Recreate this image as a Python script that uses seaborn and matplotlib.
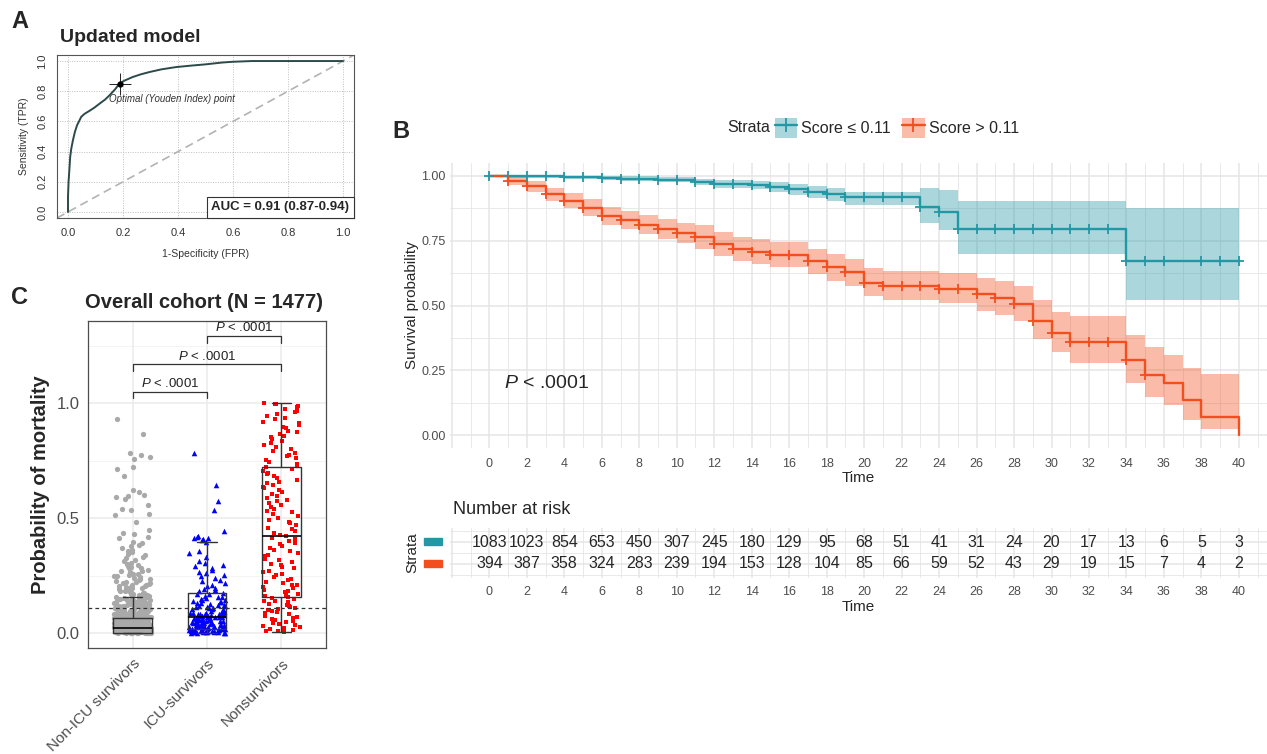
import numpy as np
import pandas as pd
import matplotlib.pyplot as plt
import seaborn as sns
from matplotlib.lines import Line2D
from matplotlib.patches import Patch, Rectangle
from matplotlib.offsetbox import AnchoredText

# ---------------- panel A : ROC of the updated model ----------------
roc_fpr = [0.0, 0.0, 0.002, 0.005, 0.008, 0.012, 0.018, 0.025, 0.033, 0.040, 0.048,
           0.060, 0.078, 0.095, 0.115, 0.135, 0.151, 0.170, 0.187, 0.205, 0.235,
           0.265, 0.296, 0.340, 0.393, 0.450, 0.500, 0.560, 0.598, 0.640, 0.670,
           0.750, 0.850, 1.0]
roc_tpr = [0.0, 0.10, 0.20, 0.28, 0.366, 0.42, 0.476, 0.53, 0.575, 0.60, 0.63,
           0.65, 0.67, 0.69, 0.718, 0.745, 0.773, 0.81, 0.85, 0.87, 0.894,
           0.912, 0.927, 0.945, 0.96, 0.97, 0.978, 0.99, 0.995, 0.998, 1.0,
           1.0, 1.0, 1.0]
youden_fpr = 0.19
youden_tpr = 0.85
auc_label = "AUC = 0.91 (0.87-0.94)"

# ---------------- panel B : Kaplan-Meier by score ----------------
low_time = [0, 1, 4, 6, 7, 9, 11, 12, 14, 15, 16, 17, 18, 19, 23, 24, 25, 34, 40]
low_surv = [1.0, 0.998, 0.995, 0.993, 0.99, 0.985, 0.978, 0.97, 0.965, 0.957,
            0.95, 0.94, 0.93, 0.92, 0.88, 0.86, 0.795, 0.67, 0.67]
low_upper = [1.0, 1.0, 1.0, 0.999, 0.998, 0.995, 0.99, 0.985, 0.982, 0.975,
             0.97, 0.963, 0.955, 0.937, 0.953, 0.944, 0.905, 0.876, 0.876]
low_lower = [1.0, 0.994, 0.99, 0.986, 0.982, 0.975, 0.965, 0.955, 0.948, 0.937,
             0.927, 0.915, 0.902, 0.886, 0.82, 0.79, 0.70, 0.52, 0.52]
low_censor = list(range(0, 37)) + [38, 39, 40]

high_time = [0, 1, 2, 3, 4, 5, 6, 7, 8, 9, 10, 11, 12, 13, 14, 15, 17, 18, 19, 20,
             21, 24, 26, 27, 28, 29, 30, 31, 34, 35, 36, 37, 38, 40]
high_surv = [1.0, 0.98, 0.96, 0.93, 0.905, 0.875, 0.845, 0.83, 0.81, 0.795, 0.78,
             0.765, 0.737, 0.718, 0.707, 0.696, 0.672, 0.649, 0.628, 0.588,
             0.576, 0.565, 0.543, 0.53, 0.506, 0.44, 0.394, 0.361, 0.289, 0.232,
             0.202, 0.135, 0.068, 0.0]
high_upper = [1.0, 1.0, 0.98, 0.955, 0.935, 0.91, 0.88, 0.865, 0.85, 0.835, 0.82,
              0.81, 0.785, 0.765, 0.755, 0.745, 0.72, 0.70, 0.68, 0.645,
              0.635, 0.625, 0.605, 0.595, 0.575, 0.52, 0.475, 0.46, 0.385, 0.34,
              0.31, 0.26, 0.235, 0.235]
high_lower = [1.0, 0.965, 0.94, 0.905, 0.875, 0.845, 0.81, 0.795, 0.775, 0.755, 0.74,
              0.72, 0.69, 0.67, 0.66, 0.65, 0.62, 0.595, 0.575, 0.535,
              0.52, 0.51, 0.48, 0.465, 0.44, 0.37, 0.32, 0.28, 0.20, 0.145,
              0.115, 0.06, 0.025, 0.025]
high_censor = list(range(1, 36))

strata_labels = ["Score \u2264 0.11", "Score > 0.11"]
risk_times = list(range(0, 41, 2))
risk_low = [1083, 1023, 854, 653, 450, 307, 245, 180, 129, 95, 68, 51, 41, 31, 24,
            20, 17, 13, 6, 5, 3]
risk_high = [394, 387, 358, 324, 283, 239, 194, 153, 128, 104, 85, 66, 59, 52, 43,
             29, 19, 15, 7, 4, 2]

# ---------------- panel C : predicted probability by outcome ----------------
groups = ["Non-ICU survivors", "ICU-survivors", "Nonsurvivors"]
prob_nonicu = [
    0.929, 0.865, 0.784, 0.774, 0.767, 0.759, 0.723, 0.713, 0.684, 0.622,
    0.614, 0.601, 0.596, 0.590, 0.583, 0.557, 0.539, 0.535, 0.519, 0.515,
    0.484, 0.446, 0.436, 0.431, 0.419, 0.412, 0.398, 0.391, 0.383, 0.377,
    0.371, 0.362, 0.357, 0.351, 0.344, 0.339, 0.331, 0.326, 0.318, 0.313,
    0.306, 0.301, 0.297, 0.293, 0.287, 0.284, 0.281, 0.276, 0.272, 0.269,
    0.265, 0.261, 0.258, 0.255, 0.251, 0.248, 0.246, 0.242, 0.239, 0.236,
    0.233, 0.231, 0.227, 0.224, 0.222, 0.219, 0.216, 0.214, 0.211, 0.209,
    0.206, 0.204, 0.201, 0.199, 0.197, 0.194, 0.192, 0.189, 0.187, 0.185,
    0.183, 0.181, 0.178, 0.176, 0.174, 0.172, 0.170, 0.168, 0.166, 0.164,
    0.162, 0.160, 0.158, 0.156, 0.154, 0.152, 0.151, 0.149, 0.147, 0.146,
    0.144, 0.142, 0.141, 0.139, 0.137, 0.136, 0.134, 0.133, 0.131, 0.130,
    0.128, 0.127, 0.125, 0.124, 0.122, 0.121, 0.119, 0.118, 0.117, 0.115,
    0.114, 0.112, 0.111, 0.110, 0.108, 0.107, 0.106, 0.104, 0.103, 0.102,
    0.100, 0.099, 0.098, 0.096, 0.095, 0.094, 0.093, 0.091, 0.090, 0.089,
    0.088, 0.087, 0.085, 0.084, 0.083, 0.082, 0.081, 0.080, 0.078, 0.077,
    0.076, 0.075, 0.074, 0.073, 0.072, 0.071, 0.070, 0.069, 0.068, 0.067,
    0.066, 0.065, 0.064, 0.063, 0.062, 0.061, 0.060, 0.059, 0.058, 0.057,
    0.056, 0.055, 0.054, 0.053, 0.052, 0.051, 0.050, 0.049, 0.048, 0.047,
    0.046, 0.045, 0.044, 0.043, 0.042, 0.041, 0.040, 0.039, 0.038, 0.037,
    0.036, 0.035, 0.034, 0.033, 0.032, 0.031, 0.030, 0.029, 0.028, 0.027,
    0.026, 0.025, 0.024, 0.023, 0.022, 0.021, 0.020, 0.019, 0.018, 0.017,
    0.016, 0.015, 0.014, 0.013, 0.012, 0.011, 0.010, 0.009, 0.008, 0.007,
    0.006, 0.005, 0.004, 0.003, 0.002, 0.001, 0.000, 0.001, 0.003, 0.005,
    0.007, 0.009, 0.011, 0.013, 0.015, 0.017, 0.019, 0.021, 0.023, 0.025,
    0.027, 0.029, 0.031, 0.033, 0.035, 0.037, 0.039, 0.042, 0.045, 0.048,
    0.051, 0.054, 0.057, 0.060, 0.064, 0.068, 0.072, 0.076, 0.080, 0.085,
    0.002, 0.004, 0.006, 0.008, 0.010, 0.012, 0.014, 0.016, 0.018, 0.020,
    0.000, 0.003, 0.006, 0.009, 0.012, 0.015, 0.018, 0.024, 0.030, 0.036,
    0.148, 0.143, 0.138, 0.132, 0.126, 0.121, 0.116, 0.109, 0.105, 0.097,
    0.092, 0.086, 0.079, 0.074, 0.069, 0.063, 0.058, 0.052, 0.047, 0.043,
    0.038, 0.034, 0.028, 0.022, 0.017, 0.011, 0.007, 0.004, 0.001, 0.000,
    0.135, 0.127, 0.118, 0.111, 0.101, 0.094, 0.088, 0.081, 0.073, 0.066,
    0.059, 0.053, 0.046, 0.041, 0.035, 0.027, 0.021, 0.014, 0.008, 0.003,
    0.002, 0.005, 0.010, 0.016, 0.026, 0.032, 0.044, 0.056, 0.062, 0.071,
    0.000, 0.001, 0.002, 0.004, 0.006, 0.009, 0.013, 0.019, 0.025, 0.031,
    0.119, 0.107, 0.096, 0.084, 0.077, 0.067, 0.055, 0.049, 0.039, 0.029,
]
prob_icu = [
    0.784, 0.643, 0.574, 0.535, 0.445, 0.421, 0.417, 0.415, 0.412, 0.409,
    0.405, 0.397, 0.356, 0.346, 0.331, 0.312, 0.306, 0.298, 0.291, 0.284,
    0.276, 0.266, 0.261, 0.252, 0.246, 0.238, 0.231, 0.225, 0.216, 0.211,
    0.204, 0.198, 0.192, 0.187, 0.181, 0.176, 0.172, 0.168, 0.163, 0.158,
    0.155, 0.151, 0.147, 0.145, 0.142, 0.139, 0.137, 0.134, 0.132, 0.129,
    0.127, 0.124, 0.121, 0.119, 0.117, 0.114, 0.112, 0.110, 0.108, 0.105,
    0.103, 0.100, 0.098, 0.096, 0.094, 0.091, 0.089, 0.087, 0.085, 0.083,
    0.081, 0.079, 0.077, 0.075, 0.073, 0.071, 0.069, 0.067, 0.065, 0.063,
    0.061, 0.059, 0.057, 0.055, 0.053, 0.051, 0.049, 0.047, 0.045, 0.043,
    0.041, 0.039, 0.037, 0.035, 0.033, 0.031, 0.029, 0.027, 0.025, 0.023,
    0.021, 0.019, 0.017, 0.015, 0.013, 0.011, 0.009, 0.007, 0.005, 0.003,
    0.001, 0.002, 0.004, 0.006, 0.008, 0.010, 0.012, 0.014, 0.016, 0.018,
    0.020, 0.024, 0.028, 0.032, 0.036, 0.040, 0.046, 0.052, 0.058, 0.064,
    0.070, 0.076, 0.082, 0.088, 0.094, 0.000, 0.003, 0.006, 0.009, 0.012,
    0.002, 0.005, 0.011, 0.017, 0.026, 0.034, 0.044, 0.056, 0.068, 0.086,
]
prob_nonsurv = [
    1.000, 0.997, 0.994, 0.989, 0.983, 0.976, 0.967, 0.961, 0.953, 0.944,
    0.936, 0.929, 0.918, 0.913, 0.904, 0.897, 0.891, 0.880, 0.874, 0.867,
    0.857, 0.851, 0.843, 0.834, 0.827, 0.819, 0.808, 0.801, 0.791, 0.783,
    0.774, 0.769, 0.761, 0.751, 0.746, 0.737, 0.729, 0.722, 0.714, 0.706,
    0.697, 0.691, 0.681, 0.676, 0.667, 0.659, 0.653, 0.644, 0.637, 0.631,
    0.621, 0.613, 0.604, 0.597, 0.589, 0.579, 0.573, 0.564, 0.557, 0.549,
    0.541, 0.531, 0.526, 0.517, 0.509, 0.499, 0.493, 0.484, 0.477, 0.469,
    0.459, 0.453, 0.444, 0.437, 0.428, 0.421, 0.414, 0.407, 0.401, 0.391,
    0.386, 0.377, 0.371, 0.361, 0.356, 0.347, 0.341, 0.333, 0.324, 0.317,
    0.311, 0.301, 0.296, 0.287, 0.281, 0.271, 0.266, 0.257, 0.251, 0.244,
    0.236, 0.231, 0.223, 0.219, 0.211, 0.207, 0.199, 0.195, 0.187, 0.183,
    0.177, 0.171, 0.166, 0.161, 0.156, 0.151, 0.147, 0.141, 0.138, 0.133,
    0.127, 0.123, 0.119, 0.113, 0.109, 0.104, 0.101, 0.097, 0.093, 0.087,
    0.083, 0.079, 0.074, 0.071, 0.066, 0.061, 0.057, 0.053, 0.048, 0.044,
    0.039, 0.035, 0.031, 0.026, 0.022, 0.018, 0.014, 0.011, 0.007, 0.004,
]
# box statistics: lower whisker, Q1, median, Q3, upper whisker
box_nonicu = [0.0, 0.001, 0.02, 0.064, 0.158]
box_icu = [0.0, 0.016, 0.071, 0.175, 0.397]
box_nonsurv = [0.005, 0.158, 0.423, 0.72, 1.0]
cutoff = 0.11
pvalue_text = "$P$ < .0001"

# ---------------- style ----------------
sns.set_style("white")
plt.rcParams['font.family'] = ['Liberation Sans', 'DejaVu Sans']
plt.rcParams['mathtext.fontset'] = 'custom'
plt.rcParams['mathtext.rm'] = 'Liberation Sans'
plt.rcParams['mathtext.it'] = 'Liberation Sans:italic'
plt.rcParams['mathtext.bf'] = 'Liberation Sans:bold'

teal = "#2298A5"
orange = "#F24E1E"
grid_col = "#E5E5E5"

W, H = 1267, 754
fig = plt.figure(figsize=(W / 100, H / 100), dpi=100)


def px_axes(left, top, right, bottom):
    return fig.add_axes([left / W, 1 - bottom / H, (right - left) / W, (bottom - top) / H])


# ================= A =================
axA = px_axes(57, 55, 354, 218)
axA.set_xlim(-0.04, 1.04)
axA.set_ylim(-0.04, 1.04)
ticks = [0.0, 0.2, 0.4, 0.6, 0.8, 1.0]
for t in ticks:
    axA.axvline(t, color="#BFBFBF", lw=0.7, ls=(0, (1, 1.5)), zorder=0)
    axA.axhline(t, color="#BFBFBF", lw=0.7, ls=(0, (1, 1.5)), zorder=0)
axA.plot([-0.04, 1.04], [-0.04, 1.04], color="#B3B3B3", lw=1.2, ls=(0, (5, 3)), zorder=1)
sns.lineplot(x=roc_fpr, y=roc_tpr, sort=False, estimator=None, color="#2B4A48",
             lw=1.4, ax=axA, zorder=2)
axA.plot([youden_fpr], [youden_tpr], marker='+', ms=16, mew=0.7, color="#222222", zorder=3)
axA.plot([youden_fpr], [youden_tpr], marker='o', ms=3.5, color="black", zorder=3)
axA.text(youden_fpr - 0.04, youden_tpr - 0.1, "Optimal (Youden Index) point",
         fontsize=7, style='italic', color="#333333", ha='left', va='center')
at = AnchoredText(auc_label, loc='lower right', borderpad=0, pad=0.35,
                  prop=dict(fontsize=9.5, fontweight='bold'))
at.patch.set_edgecolor("#333333")
at.patch.set_linewidth(0.8)
axA.add_artist(at)
axA.set_xticks(ticks)
axA.set_yticks(ticks)
axA.set_xticklabels([f"{t:.1f}" for t in ticks], fontsize=8, color="#333333")
axA.set_yticklabels([f"{t:.1f}" for t in ticks], fontsize=8, color="#333333",
                    rotation=90, va='center')
axA.tick_params(length=3, width=0.7, color="#555555", pad=4)
axA.set_xlabel("1-Specificity (FPR)", fontsize=7.5, labelpad=8, color="#333333")
axA.set_ylabel("Sensitivity (TPR)", fontsize=7.5, labelpad=6, color="#333333")
for s in axA.spines.values():
    s.set_color("#555555")
    s.set_linewidth(0.8)
fig.text(60 / W, 1 - 38 / H, "Updated model", fontsize=14, fontweight='bold', va='center')
fig.text(11 / W, 1 - 22 / H, "A", fontsize=17, fontweight='bold', va='center')

# ================= B : survival curves =================
axB = px_axes(450, 163, 1267, 448)
axB.set_xlim(-2.1, 41.5)
axB.set_ylim(-0.05, 1.05)
for t in range(-2, 42):
    axB.axvline(t, color=grid_col, lw=1.1 if t % 2 == 0 else 0.6, zorder=0)
for v in np.arange(0, 1.01, 0.125):
    axB.axhline(v, color=grid_col, lw=1.1 if round(v / 0.125) % 2 == 0 else 0.6, zorder=0)

km_rows = []
for lab, tt, ss in [(strata_labels[0], low_time, low_surv), (strata_labels[1], high_time, high_surv)]:
    for a, b in zip(tt, ss):
        km_rows.append({"time": a, "surv": b, "strata": lab})
km_df = pd.DataFrame(km_rows)
pal = {strata_labels[0]: teal, strata_labels[1]: orange}

axB.fill_between(low_time, low_lower, low_upper, step='post', color=teal, alpha=0.38, lw=0, zorder=1)
axB.fill_between(high_time, high_lower, high_upper, step='post', color=orange, alpha=0.38, lw=0, zorder=1)
sns.lineplot(data=km_df, x="time", y="surv", hue="strata", palette=pal, estimator=None,
             drawstyle='steps-post', lw=1.7, legend=False, ax=axB, zorder=3)

for cens, tt, ss, col in [(low_censor, low_time, low_surv, teal),
                          (high_censor, high_time, high_surv, orange)]:
    idx = np.searchsorted(tt, cens, side='right') - 1
    cy = np.asarray(ss)[idx]
    sns.scatterplot(x=cens, y=cy, marker='+', s=60, linewidth=1.3, color=col, ax=axB, zorder=4)

axB.set_xticks(risk_times)
axB.set_xticklabels([str(t) for t in risk_times], fontsize=9, color="#4D4D4D")
axB.set_yticks([0, 0.25, 0.5, 0.75, 1.0])
axB.set_yticklabels(["0.00", "0.25", "0.50", "0.75", "1.00"], fontsize=9, color="#4D4D4D")
axB.tick_params(length=0, pad=3)
axB.tick_params(axis='x', pad=7)
axB.set_xlabel("Time", fontsize=11, labelpad=1)
axB.set_ylabel("Survival probability", fontsize=11, labelpad=2)
sns.despine(ax=axB, left=True, bottom=True)
axB.text(0.8, 0.2, pvalue_text, fontsize=14, ha='left', va='center')

fig.text(392 / W, 1 - 132 / H, "B", fontsize=17, fontweight='bold', va='center')
fig.text(727 / W, 1 - 128 / H, "Strata", fontsize=11.5, va='center')
handles = [(Patch(facecolor=teal, alpha=0.38, lw=0),
            Line2D([], [], color=teal, lw=1.7, marker='+', ms=10, mew=1.3)),
           (Patch(facecolor=orange, alpha=0.38, lw=0),
            Line2D([], [], color=orange, lw=1.7, marker='+', ms=10, mew=1.3))]
fig.legend(handles, strata_labels, loc='center left', bbox_to_anchor=(775 / W, 1 - 128 / H),
           ncol=2, frameon=False, fontsize=11.5, handlelength=1.4, handleheight=1.6,
           handletextpad=0.25, columnspacing=0.7, borderpad=0, borderaxespad=0)

# ================= B : number at risk =================
axR = px_axes(450, 528, 1267, 578)
axR.set_xlim(-2.1, 41.5)
axR.set_ylim(-0.65, 1.65)
for t in range(-2, 42):
    axR.axvline(t, color=grid_col, lw=1.1 if t % 2 == 0 else 0.6, zorder=0)
for v in [-0.5, 0, 0.5, 1, 1.5]:
    axR.axhline(v, color=grid_col, lw=1.1 if v in (0, 1) else 0.6, zorder=0)
for t, n in zip(risk_times, risk_low):
    axR.text(t, 1, str(n), ha='center', va='center', fontsize=11.5)
for t, n in zip(risk_times, risk_high):
    axR.text(t, 0, str(n), ha='center', va='center', fontsize=11.5)
axR.set_xticks(risk_times)
axR.set_xticklabels([str(t) for t in risk_times], fontsize=9, color="#4D4D4D")
axR.set_yticks([])
axR.tick_params(length=0, pad=6)
axR.set_xlabel("Time", fontsize=11, labelpad=1)
axR.set_ylabel("Strata", fontsize=11, labelpad=22)
sns.despine(ax=axR, left=True, bottom=True)
fig.text(453 / W, 1 - 509 / H, "Number at risk", fontsize=13, va='center')
fig.patches.append(Rectangle((424 / W, 1 - 545 / H), 18 / W, 7 / H, color=teal,
                             transform=fig.transFigure, figure=fig))
fig.patches.append(Rectangle((424 / W, 1 - 567 / H), 18 / W, 7 / H, color=orange,
                             transform=fig.transFigure, figure=fig))

# ================= C =================
axC = px_axes(88, 321, 326, 648)
for y in [0, 0.5, 1.0]:
    axC.axhline(y, color="#EBEBEB", lw=1.1, zorder=0)
for y in [0.25, 0.75, 1.25]:
    axC.axhline(y, color="#F2F2F2", lw=0.6, zorder=0)
for x in [0, 1, 2]:
    axC.axvline(x, color="#EBEBEB", lw=1.1, zorder=0)

np.random.seed(7)
for name, vals, col, mk, sz in [(groups[0], prob_nonicu, "#A9A9A9", 'o', 3.8),
                                (groups[1], prob_icu, "#0000FF", '^', 4.0),
                                (groups[2], prob_nonsurv, "#FF0000", 's', 3.4)]:
    sns.stripplot(x=[name] * len(vals), y=vals, order=groups, jitter=0.25, color=col,
                  marker=mk, size=sz, linewidth=0, ax=axC, zorder=2)

box_df = pd.DataFrame({
    "group": [groups[0]] * 5 + [groups[1]] * 5 + [groups[2]] * 5,
    "value": box_nonicu + box_icu + box_nonsurv,
})
sns.boxplot(data=box_df, x="group", y="value", order=groups, whis=(0, 100), width=0.52,
            fill=False, color="#333333", linewidth=1.0, showfliers=False, ax=axC,
            medianprops=dict(color="black", lw=1.2))
axC.axhline(cutoff, color="#333333", lw=0.9, ls=(0, (3, 2.5)), zorder=4)

for x0, x1, yb in [(0, 1, 1.05), (0, 2, 1.17), (1, 2, 1.293)]:
    axC.plot([x0, x0, x1, x1], [yb - 0.03, yb, yb, yb - 0.03], color="#333333", lw=0.9)
    axC.text((x0 + x1) / 2, yb + 0.006, pvalue_text, ha='center', va='bottom',
             fontsize=9.5, color="#222222")

axC.set_xlim(-0.6, 2.6)
axC.set_ylim(-0.065, 1.357)
axC.set_yticks([0, 0.5, 1.0])
axC.set_yticklabels(["0.0", "0.5", "1.0"], fontsize=12, color="#4D4D4D")
axC.set_xticks([0, 1, 2])
axC.set_xticklabels(groups, rotation=45, ha='right', rotation_mode='anchor',
                    fontsize=11, color="#4D4D4D")
axC.tick_params(length=3, width=0.8, color="#333333", pad=3)
axC.set_xlabel("")
axC.set_ylabel("Probability of mortality", fontsize=14.5, fontweight='bold', labelpad=5)
for s in axC.spines.values():
    s.set_color("#4D4D4D")
    s.set_linewidth(0.9)
fig.text(85 / W, 1 - 303 / H, "Overall cohort (N = 1477)", fontsize=14.5,
         fontweight='bold', va='center')
fig.text(11 / W, 1 - 297 / H, "C", fontsize=17, fontweight='bold', va='center')

fig.savefig("out.png", dpi=100)
